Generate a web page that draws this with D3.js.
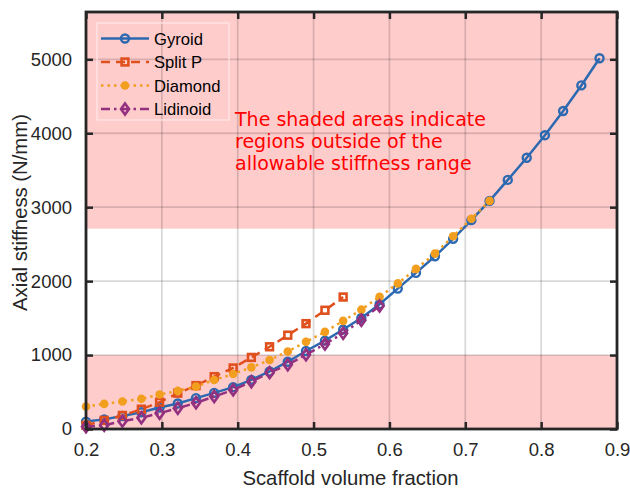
<!DOCTYPE html>
<html>
<head>
<meta charset="utf-8">
<script src="https://cdn.jsdelivr.net/npm/d3@7"></script>
<style>
  body { margin: 0; background: #fff; }
</style>
</head>
<body>
<div id="chart"></div>
<script>
const width = 630
const height = 488
const margin = { top: 12, bottom: 59, left: 86, right: 13 }

// volume fractions of the sampled scaffolds
const volumeFraction = [0.200, 0.224, 0.248, 0.273, 0.297, 0.321, 0.345, 0.369, 0.394, 0.418,
    0.442, 0.466, 0.490, 0.515, 0.539, 0.563, 0.587, 0.611, 0.635, 0.660,
    0.684, 0.708, 0.732, 0.756, 0.781, 0.805, 0.829, 0.853, 0.877]

const gyroid = [100, 130, 175, 226, 290, 345, 418, 489, 566, 665,
    778, 910, 1055, 1195, 1345, 1502, 1688, 1899, 2112, 2336,
    2572, 2825, 3085, 3369, 3669, 3974, 4301, 4647, 5015]
const splitP = [50, 116, 183, 268, 362, 485, 587, 708, 825, 968, 1112, 1269, 1425, 1606, 1785]
const diamond = [304, 340, 371, 408, 466, 515, 573, 663, 744, 834,
    933, 1048, 1179, 1314, 1462, 1614, 1789, 1969, 2166, 2372, 2606, 2844, 3085]
const lidinoid = [30, 50, 106, 152, 214, 281, 354, 439, 529, 640,
    762, 869, 1004, 1148, 1296, 1471, 1663]

const xTicks = [0.2, 0.3, 0.4, 0.5, 0.6, 0.7, 0.8, 0.9]
const yTicks = [0, 1000, 2000, 3000, 4000, 5000]
const allowedRange = [1000, 2710]
const yMax = 5640

const note = ["The shaded areas indicate", "regions outside of the", "allowable stiffness range"]

const series = [
    { name: "Gyroid", values: gyroid, color: "#2c69b0", dash: null, marker: "circle" },
    { name: "Split P", values: splitP, color: "#e0501d", dash: "9,6", marker: "square" },
    { name: "Diamond", values: diamond, color: "#f29e1f", dash: "2.5,4", marker: "dot" },
    { name: "Lidinoid", values: lidinoid, color: "#93307f", dash: "9,4,2.5,4", marker: "diamond" }
]

const innerW = width - margin.left - margin.right
const innerH = height - margin.top - margin.bottom
const ink = "#262626"

const svg = d3.select("#chart")
    .append("svg")
    .attr("width", width)
    .attr("height", height)
    .style("font-family", "'Liberation Sans', Arial, sans-serif")

const plot = svg.append("g")
    .attr("transform", `translate(${margin.left}, ${margin.top})`)

const x = d3.scaleLinear().domain([0.2, 0.9]).range([0, innerW])
const y = d3.scaleLinear().domain([0, yMax]).range([innerH, 0])

// zonas fuera del rango permitido
plot.append("rect")
    .attr("x", 0).attr("width", innerW)
    .attr("y", y(yMax)).attr("height", y(allowedRange[1]) - y(yMax))
    .attr("fill", "#ffcccc")
plot.append("rect")
    .attr("x", 0).attr("width", innerW)
    .attr("y", y(allowedRange[0])).attr("height", y(0) - y(allowedRange[0]))
    .attr("fill", "#ffcccc")

// grid
plot.append("g").selectAll("line").data(xTicks.slice(1, -1)).join("line")
    .attr("x1", d => x(d)).attr("x2", d => x(d))
    .attr("y1", 0).attr("y2", innerH)
    .attr("stroke", "#000").attr("stroke-opacity", 0.15).attr("stroke-width", 1.8)
plot.append("g").selectAll("line").data(yTicks.slice(1)).join("line")
    .attr("x1", 0).attr("x2", innerW)
    .attr("y1", d => y(d)).attr("y2", d => y(d))
    .attr("stroke", "#000").attr("stroke-opacity", 0.15).attr("stroke-width", 1.8)

// text note
plot.append("text")
    .attr("font-family", "'DejaVu Sans', sans-serif")
    .attr("font-size", 19)
    .attr("fill", "#ff0000")
    .selectAll("tspan").data(note).join("tspan")
    .attr("x", 235 - margin.left)
    .attr("y", (d, i) => 126 - margin.top + i * 22)
    .text(d => d)

// series
series.forEach(s => {
    const pts = s.values.map((v, i) => ({ vf: volumeFraction[i], v: v }))
    const line = d3.line().x(d => x(d.vf)).y(d => y(d.v))
    plot.append("path")
        .attr("d", line(pts))
        .attr("fill", "none")
        .attr("stroke", s.color)
        .attr("stroke-width", 2.5)
        .attr("stroke-dasharray", s.dash)
    drawMarkers(plot, pts.map(d => [x(d.vf), y(d.v)]), s)
})

function drawMarkers(g, coords, s) {
    const mg = g.append("g")
    coords.forEach(([cx, cy]) => drawMarker(mg, cx, cy, s))
}

function drawMarker(g, cx, cy, s) {
    if (s.marker === "circle") {
        g.append("circle").attr("cx", cx).attr("cy", cy).attr("r", 4)
            .attr("fill", "none").attr("stroke", s.color).attr("stroke-width", 2.4)
    } else if (s.marker === "square") {
        g.append("rect").attr("x", cx - 3.4).attr("y", cy - 3.4)
            .attr("width", 6.8).attr("height", 6.8)
            .attr("fill", "none").attr("stroke", s.color).attr("stroke-width", 2.6)
    } else if (s.marker === "dot") {
        g.append("circle").attr("cx", cx).attr("cy", cy).attr("r", 4.3)
            .attr("fill", s.color)
    } else {
        g.append("path")
            .attr("d", `M${cx},${cy - 5.5}L${cx + 4},${cy}L${cx},${cy + 5.5}L${cx - 4},${cy}Z`)
            .attr("fill", "none").attr("stroke", s.color).attr("stroke-width", 2.6)
    }
}

// ejes
const xAxisGroup = plot.append("g").attr("transform", `translate(0, ${innerH})`)
    .call(d3.axisBottom(x).tickValues(xTicks).tickSize(-7).tickPadding(14).tickFormat(d3.format(".1f")))
const yAxisGroup = plot.append("g")
    .call(d3.axisLeft(y).tickValues(yTicks).tickSize(-7).tickPadding(14).tickFormat(d3.format("d")))
const xTopGroup = plot.append("g")
    .call(d3.axisTop(x).tickValues(xTicks).tickSize(-7).tickFormat(""))
const yRightGroup = plot.append("g").attr("transform", `translate(${innerW}, 0)`)
    .call(d3.axisRight(y).tickValues(yTicks).tickSize(-7).tickFormat(""))

;[xAxisGroup, yAxisGroup, xTopGroup, yRightGroup].forEach(g => {
    g.select(".domain").remove()
    g.selectAll(".tick line").attr("stroke", ink).attr("stroke-width", 2.5)
    g.selectAll(".tick text").attr("fill", ink).attr("font-size", 18.5)
        .attr("font-family", "'Liberation Sans', Arial, sans-serif")
})

plot.append("rect")
    .attr("x", 0).attr("y", 0).attr("width", innerW).attr("height", innerH)
    .attr("fill", "none").attr("stroke", ink).attr("stroke-width", 2.8)

// axis labels
svg.append("text")
    .attr("x", margin.left + innerW / 2 - 1)
    .attr("y", 485)
    .attr("text-anchor", "middle")
    .attr("font-size", 20.3)
    .attr("fill", ink)
    .text("Scaffold volume fraction")

svg.append("text")
    .attr("transform", `translate(27, ${margin.top + innerH / 2 - 8}) rotate(-90)`)
    .attr("text-anchor", "middle")
    .attr("font-size", 20.3)
    .attr("fill", ink)
    .text("Axial stiffness (N/mm)")

// leyenda
const legend = svg.append("g").attr("transform", "translate(97, 23)")
legend.append("rect")
    .attr("width", 132).attr("height", 97)
    .attr("fill", "none").attr("stroke", "#ffe8e8").attr("stroke-width", 1.2)

series.forEach((s, i) => {
    const row = legend.append("g").attr("transform", `translate(0, ${15.5 + i * 23.5})`)
    row.append("line")
        .attr("x1", 4).attr("x2", 52).attr("y1", 0).attr("y2", 0)
        .attr("stroke", s.color).attr("stroke-width", 2.5)
        .attr("stroke-dasharray", s.dash)
    drawMarker(row, 28, 0, s)
    row.append("text")
        .attr("x", 57).attr("y", 6)
        .attr("font-size", 16.6)
        .attr("fill", "#000")
        .text(s.name)
})
</script>
</body>
</html>
